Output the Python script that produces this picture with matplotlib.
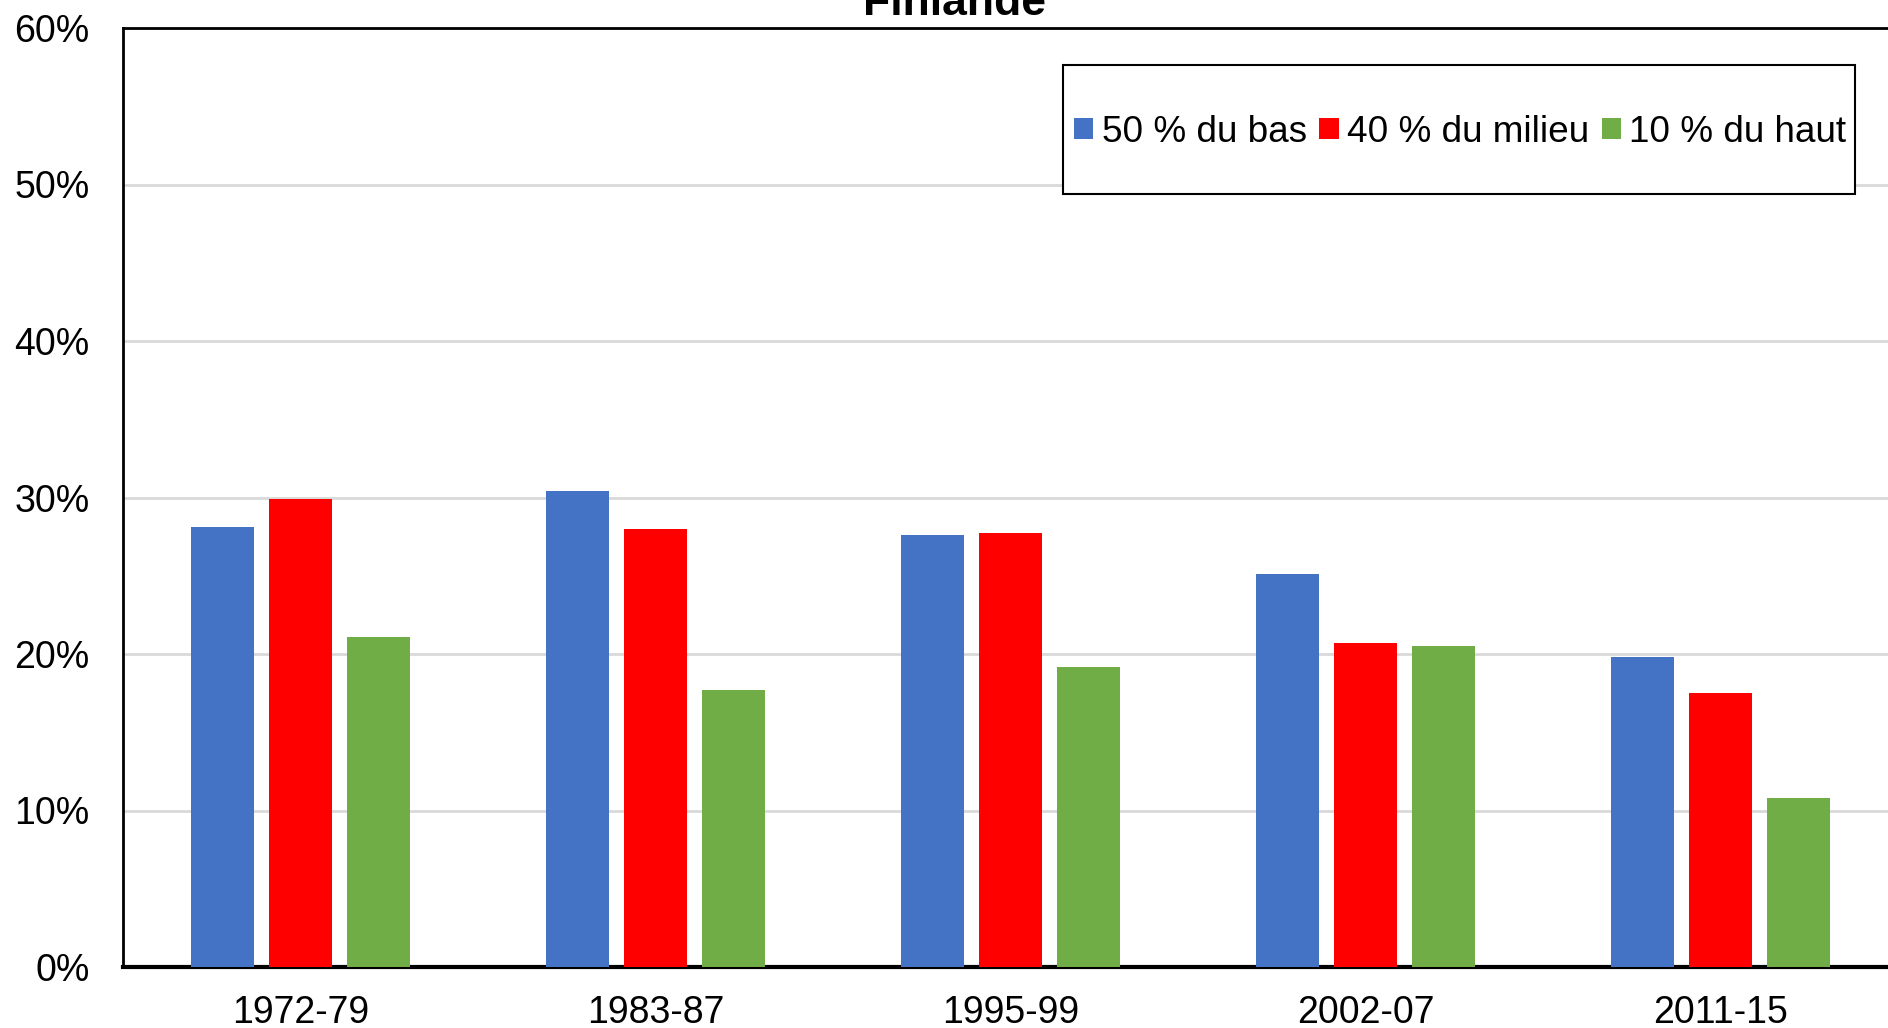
import numpy as np
import matplotlib.pyplot as plt
from matplotlib.patches import Rectangle

plt.rcParams['font.family'] = ['Liberation Sans', 'DejaVu Sans']

# donnees (en %)
periodes = ['1972-79', '1983-87', '1995-99', '2002-07', '2011-15']
bas50 = [28.1, 30.4, 27.6, 25.1, 19.8]
milieu40 = [29.9, 28.0, 27.7, 20.7, 17.5]
haut10 = [21.1, 17.7, 19.2, 20.5, 10.8]
series = ['50 % du bas', '40 % du milieu', '10 % du haut']
couleurs = ['#4472c4', '#ff0000', '#70ad47']

W, H = 1888, 1028
fig = plt.figure(figsize=(W / 100, H / 100), dpi=100)
ax = fig.add_axes([123 / W, 61 / H, 1775 / W, 939 / H])

x = np.arange(len(periodes))
step = 0.22
larg = 0.177
for k, (vals, nom, c) in enumerate(zip([bas50, milieu40, haut10], series, couleurs)):
    ax.bar(x + (k - 1) * step, vals, width=larg, color=c, label=nom, zorder=3)

ax.set_xlim(-0.5, len(periodes) - 0.5)
ax.set_ylim(0, 60)
ax.set_yticks(range(0, 61, 10))
ax.set_yticklabels([f'{v}%' for v in range(0, 61, 10)])
ax.set_xticks(x)
ax.set_xticklabels(periodes)
ax.tick_params(axis='both', length=0, labelsize=27)
ax.tick_params(axis='y', pad=24)
ax.tick_params(axis='x', pad=20)
ax.grid(axis='y', color='#d9d9d9', linewidth=2, zorder=0)

for s in ['top', 'left']:
    ax.spines[s].set_linewidth(2)
ax.spines['bottom'].set_linewidth(3)
ax.spines['right'].set_visible(False)

# cadre de la legende
fig.patches.append(Rectangle((1063 / W, 1 - 194 / H), 792 / W, 129 / H,
                             transform=fig.transFigure, facecolor='white',
                             edgecolor='black', linewidth=1.5, zorder=5))
leg = fig.legend(loc='center left', bbox_to_anchor=(1074 / W, 1 - 132 / H),
                 ncol=3, frameon=False, fontsize=26.6, handlelength=0.52,
                 handleheight=0.52, handletextpad=0.23, columnspacing=0.34,
                 borderpad=0, borderaxespad=0)
leg.set_zorder(6)

fig.text(955 / W, 1 - 15 / H, 'Finlande', ha='center', va='baseline',
         fontsize=32, fontweight='bold')

fig.savefig('out.png', dpi=100)
